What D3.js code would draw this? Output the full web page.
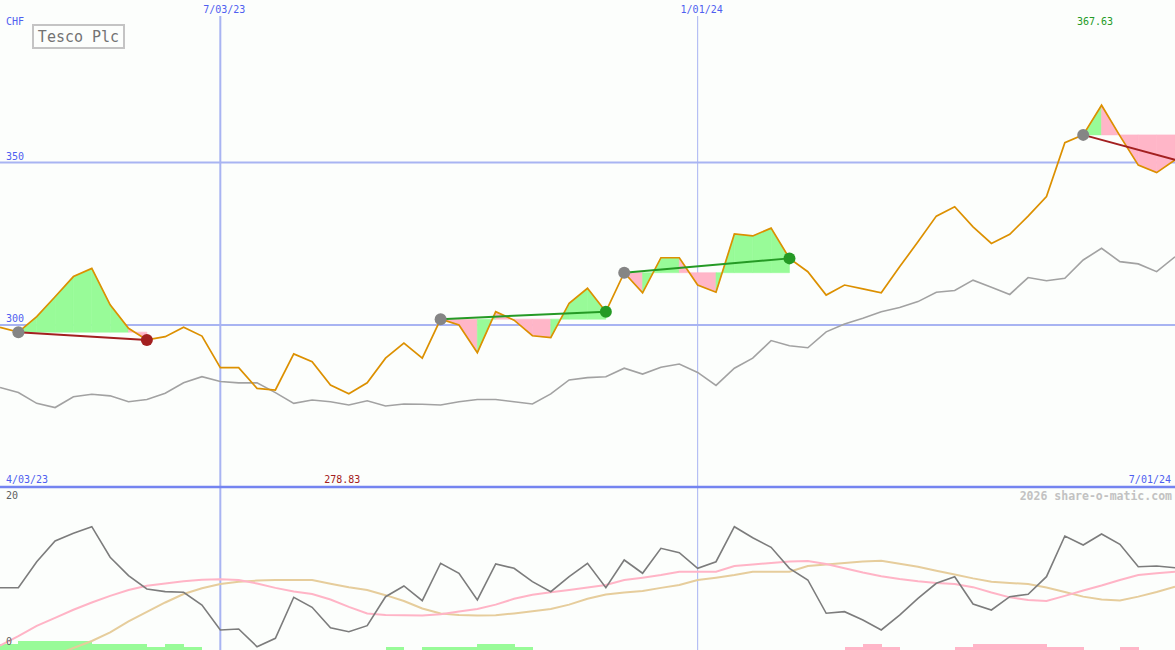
<!DOCTYPE html>
<html><head><meta charset="utf-8">
<script src="https://cdn.jsdelivr.net/npm/d3@7"></script>
<style>html,body{margin:0;padding:0;background:#fcfefc;}svg{display:block;}</style>
</head><body><svg id="c" width="1175" height="650"></svg>
<script>
// ---- data ----
const startDate = "2023-04-10"; // first weekly close
const price = [299.3, 297.8, 302.6, 308.7, 314.9, 317.4, 306.2, 299.0, 295.4, 296.4,
  299.3, 296.6, 286.9, 286.9, 280.5, 280.0, 291.1, 288.7, 281.5, 278.83,
  282.2, 289.8, 294.4, 289.8, 301.8, 300.0, 291.5, 304.1, 301.5, 296.7,
  296.1, 306.7, 311.3, 304.1, 316.1, 309.9, 320.7, 320.7, 312.3, 310.1,
  328.0, 327.4, 329.8, 320.5, 316.4, 309.2, 312.3, 311.1, 309.9, 317.9,
  325.6, 333.5, 336.4, 330.2, 325.1, 327.9, 333.5, 339.5, 356.1, 358.5,
  367.63, 358.2, 349.2, 346.9, 350.8];
const benchmark = [280.8, 279.2, 275.9, 274.6, 277.9, 278.7, 278.2, 276.4, 277.1, 279.0,
  282.2, 284.1, 282.6, 282.2, 282.2, 279.2, 275.9, 276.9, 276.4, 275.4,
  276.7, 275.1, 275.7, 275.6, 275.4, 276.4, 277.1, 277.1, 276.4, 275.7,
  278.8, 283.1, 283.8, 284.1, 286.7, 284.9, 287.0, 288.0, 285.4, 281.4,
  286.7, 289.8, 295.2, 293.6, 293.0, 297.9, 300.3, 302.1, 304.1, 305.4,
  307.2, 310.1, 310.6, 313.8, 311.6, 309.4, 314.6, 313.6, 314.4, 320.0,
  323.6, 319.5, 318.8, 316.4, 321.0];
const momentum = [8.12, 8.12, 11.68, 14.52, 15.58, 16.48, 12.29, 9.77, 7.95, 7.58,
  7.49, 5.75, 2.33, 2.47, 0.04, 1.19, 6.81, 5.44, 2.64, 2.10,
  2.92, 6.89, 8.36, 6.34, 11.47, 10.10, 6.44, 11.37, 10.78, 8.95,
  7.58, 9.63, 11.47, 8.12, 11.92, 10.10, 13.52, 12.92, 10.78, 11.68,
  16.48, 14.97, 13.66, 10.78, 9.18, 4.62, 4.84, 3.70, 2.33, 4.38,
  6.67, 8.73, 9.63, 5.89, 5.07, 6.89, 7.22, 9.63, 15.21, 13.97,
  15.48, 14.07, 11.00, 11.10, 10.86];
const maFast = [0.2, 1.5, 2.9, 4.0, 5.1, 6.1, 7.0, 7.8, 8.4, 8.7,
  9.0, 9.2, 9.27, 9.18, 8.7, 8.1, 7.6, 7.26, 6.5, 5.5,
  4.6, 4.38, 4.34, 4.3, 4.5, 4.86, 5.2, 5.8, 6.6, 7.16,
  7.5, 7.8, 8.15, 8.5, 9.18, 9.5, 9.86, 10.3, 10.3, 10.3,
  11.1, 11.3, 11.5, 11.7, 11.78, 11.37, 10.8, 10.2, 9.68, 9.3,
  9.0, 8.77, 8.63, 8.2, 7.47, 6.8, 6.44, 6.3, 7.0, 7.74,
  8.42, 9.18, 9.86, 10.1, 10.3];
const maSlow = [-3.9, -3.0, -2.0, -1.1, -0.14, 0.82, 2.0, 3.5, 4.8, 6.1,
  7.26, 8.04, 8.63, 8.95, 9.1, 9.18, 9.18, 9.18, 8.67, 8.2,
  7.8, 7.1, 6.3, 5.27, 4.6, 4.38, 4.3, 4.34, 4.6, 4.9,
  5.2, 5.8, 6.6, 7.2, 7.47, 7.67, 8.1, 8.5, 9.18, 9.5,
  9.86, 10.3, 10.3, 10.3, 11.1, 11.3, 11.5, 11.7, 11.8, 11.4,
  11.0, 10.45, 9.93, 9.4, 8.95, 8.77, 8.63, 8.15, 7.53, 6.9,
  6.5, 6.37, 6.9, 7.53, 8.26];
const signal = [2,3,3,3,3,2,2,2,1,2, 1,0,0,0,0,0,0,0,0,0, 0,1,0,1,1,1,2,2,1,0,
  0,0,0,0,0,0,0,0,0,0, 0,0,0,0,0,0,-1,-2,-1,0, 0,0,-1,-2,-2,-2,-2,-1,-1,0, 0,-1,0,0,0];
const trendStart = [1, 24, 34, 59];
const trendEnd = [8, 33, 43, 64];
const trendEndMarker = [true, true, true, false];
const priceGrid = [300, 350];
const lowerLabels = [20, 0];
const dateGrid = ["7/03/23", "1/01/24"];
const dateGridWidth = [2, 1];
const edgeDates = ["4/03/23", "7/01/24"];
const title = "Tesco Plc";
const currency = "CHF";
const credit = "2026 share-o-matic.com";

// ---- setup ----
const W = 1175, H = 650;
const svg = d3.select("#c");
const parseD = d3.utcParse("%m/%d/%y");
const d0 = d3.utcParse("%Y-%m-%d")(startDate);
const dates = price.map((_, i) => d3.utcDay.offset(d0, 7 * i));
const x = d3.scaleUtc().domain([dates[0], dates[dates.length - 1]]).range([0, W]);
const y = d3.scaleLinear().domain([250, 400]).range([487.5, 0]);
const yl = d3.scaleLinear().domain([0, 20]).range([647, 501]);
const hb = d3.scaleLinear().domain([0, 3]).range([0, 9]);
const X = i => x(dates[i]);

const C = {bg:"#fcfefc", grid:"#a8b4f2", axis:"#7484f0", blue:"#4f5ff0", orange:"#dc9000",
  gray:"#a2a2a2", dgray:"#7c7c7c", pink:"#ffb6c8", lpink:"#ffb4c6", tan:"#e6cd9c",
  green:"#98fb98", tgreen:"#259a25", tred:"#a32020", marker:"#858585"};

svg.append("rect").attr("width", W).attr("height", H).attr("fill", C.bg);

svg.append("clipPath").attr("id","lowclip").append("rect").attr("x",0).attr("y",489).attr("width",W).attr("height",H-489);
svg.append("clipPath").attr("id","mainclip").append("rect").attr("x",0).attr("y",0).attr("width",W).attr("height",487);

// horizontal price grid
svg.selectAll(".hg").data(priceGrid).join("line")
  .attr("x1", 0).attr("x2", W).attr("y1", d => y(d)).attr("y2", d => y(d))
  .attr("stroke", C.grid).attr("stroke-width", 2);
svg.selectAll(".hgl").data(priceGrid).join("text")
  .attr("x", 6).attr("y", d => y(d) - 3)
  .attr("font-family", "DejaVu Sans Mono").attr("font-size", 10).attr("fill", C.blue).text(d => d);

// vertical date grid
svg.selectAll(".vg").data(dateGrid).join("line")
  .attr("x1", d => x(parseD(d))).attr("x2", d => x(parseD(d)))
  .attr("y1", 16).attr("y2", H)
  .attr("stroke", C.grid).attr("stroke-width", (d, i) => dateGridWidth[i]);
svg.selectAll(".vgl").data(dateGrid).join("text")
  .attr("x", d => x(parseD(d)) + 4).attr("y", 13).attr("text-anchor", "middle")
  .attr("font-family", "DejaVu Sans Mono").attr("font-size", 10).attr("fill", C.blue).text(d => d);

// axis line between panels
svg.append("line").attr("x1", 0).attr("x2", W).attr("y1", 487).attr("y2", 487)
  .attr("stroke", C.axis).attr("stroke-width", 2.5);

// ---- trend fills ----
const fillG = svg.append("g").attr("clip-path", "url(#mainclip)");
trendStart.forEach((s, k) => {
  const e = trendEnd[k], base = price[s];
  for (let i = s; i < e; i++) {
    const pts = [[X(i), y(base)], [X(i), y(price[i])], [X(i + 1), y(price[i + 1])], [X(i + 1), y(base)]];
    const col = price[i + 1] >= base ? C.green : C.pink;
    fillG.append("path").attr("d", "M" + pts.join("L") + "Z")
      .attr("fill", col).attr("stroke", col).attr("stroke-width", 0.6);
  }
});

// benchmark & price lines
const lineMain = d3.line().x((d, i) => X(i)).y(d => y(d));
svg.append("path").attr("d", lineMain(benchmark)).attr("fill", "none")
  .attr("stroke", C.gray).attr("stroke-width", 1.6);
svg.append("path").attr("d", lineMain(price)).attr("fill", "none")
  .attr("stroke", C.orange).attr("stroke-width", 1.7).attr("stroke-linejoin", "miter");

// trend lines & markers
trendStart.forEach((s, k) => {
  const e = trendEnd[k];
  const col = price[e] >= price[s] ? C.tgreen : C.tred;
  svg.append("line").attr("x1", X(s)).attr("y1", y(price[s])).attr("x2", X(e)).attr("y2", y(price[e]))
    .attr("stroke", col).attr("stroke-width", 2);
  svg.append("circle").attr("cx", X(s)).attr("cy", y(price[s])).attr("r", 6).attr("fill", C.marker);
  if (trendEndMarker[k])
    svg.append("circle").attr("cx", X(e)).attr("cy", y(price[e])).attr("r", 6).attr("fill", col);
});

// max / min labels
const iMax = d3.maxIndex(price), iMin = d3.minIndex(price);
svg.append("text").attr("x", X(iMax) - 6.5).attr("y", 25).attr("text-anchor", "middle")
  .attr("font-family", "DejaVu Sans Mono").attr("font-size", 10).attr("fill", C.tgreen)
  .text(d3.format(".2f")(price[iMax]));
svg.append("text").attr("x", X(iMin) - 6.5).attr("y", 482.5).attr("text-anchor", "middle")
  .attr("font-family", "DejaVu Sans Mono").attr("font-size", 10).attr("fill", C.tred)
  .text(d3.format(".2f")(price[iMin]));

// edge dates
svg.append("text").attr("x", 6).attr("y", 482.5).attr("font-family", "DejaVu Sans Mono")
  .attr("font-size", 10).attr("fill", C.blue).text(edgeDates[0]);
svg.append("text").attr("x", 1171).attr("y", 482.5).attr("text-anchor", "end").attr("font-family", "DejaVu Sans Mono")
  .attr("font-size", 10).attr("fill", C.blue).text(edgeDates[1]);

// title box
svg.append("rect").attr("x", 33).attr("y", 25).attr("width", 91).attr("height", 23)
  .attr("fill", C.bg).attr("stroke", "#c4c4c4").attr("stroke-width", 2);
svg.append("text").attr("x", 78.5).attr("y", 42).attr("text-anchor", "middle")
  .attr("font-family", "DejaVu Sans Mono").attr("font-size", 15).attr("fill", "#737373").text(title);
svg.append("text").attr("x", 6).attr("y", 25).attr("font-family", "DejaVu Sans Mono")
  .attr("font-size", 10).attr("fill", C.blue).text(currency);

// ---- lower panel ----
const low = svg.append("g").attr("clip-path", "url(#lowclip)");
low.selectAll(".bar").data(signal).join("rect")
  .attr("x", (d, i) => X(i)).attr("width", (d, i) => i < signal.length - 1 ? X(i + 1) - X(i) + 0.5 : 0)
  .attr("y", d => H - hb(Math.abs(d))).attr("height", d => hb(Math.abs(d)))
  .attr("fill", d => d >= 0 ? C.green : C.pink).attr("shape-rendering", "crispEdges");
const lineLow = d3.line().x((d, i) => X(i)).y(d => yl(d));
low.append("path").attr("d", lineLow(maSlow)).attr("fill", "none").attr("stroke", C.tan).attr("stroke-width", 2);
low.append("path").attr("d", lineLow(maFast)).attr("fill", "none").attr("stroke", C.lpink).attr("stroke-width", 2);
low.append("path").attr("d", lineLow(momentum)).attr("fill", "none").attr("stroke", C.dgray).attr("stroke-width", 1.6);

svg.selectAll(".ll").data(lowerLabels).join("text")
  .attr("x", 6).attr("y", d => yl(d) - 2)
  .attr("font-family", "DejaVu Sans Mono").attr("font-size", 10).attr("fill", "#606060").text(d => d);

svg.append("text").attr("x", 1172).attr("y", 499.5).attr("text-anchor", "end")
  .attr("font-family", "DejaVu Sans Mono").attr("font-size", 11.5).attr("font-weight", "bold")
  .attr("fill", "#c2c2c2").text(credit);
</script></body></html>
